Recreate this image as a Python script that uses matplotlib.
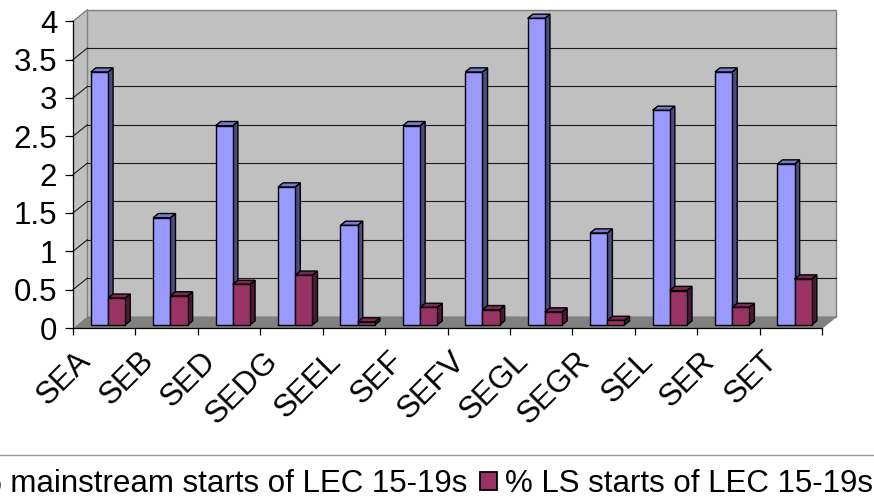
import matplotlib
matplotlib.use("Agg")
import matplotlib.pyplot as plt
from matplotlib.patches import Polygon, Patch
from matplotlib.transforms import offset_copy

# Data
categories = ["SEA", "SEB", "SED", "SEDG", "SEEL", "SEF", "SEFV", "SEGL",
              "SEGR", "SEL", "SER", "SET"]
mainstream = [3.3, 1.4, 2.6, 1.8, 1.3, 2.6, 3.3, 4.0, 1.2, 2.8, 3.3, 2.1]
ls_starts = [0.35, 0.38, 0.53, 0.65, 0.04, 0.23, 0.2, 0.17, 0.06, 0.45, 0.23, 0.6]
series_labels = ["% mainstream starts of LEC 15-19s", "% LS starts of LEC 15-19s"]
y_ticks = [0, 0.5, 1, 1.5, 2, 2.5, 3, 3.5, 4]

plt.rcParams["font.family"] = ["Liberation Sans", "DejaVu Sans"]
FS = 22.5

W, H = 874, 501
fig = plt.figure(figsize=(W / 100, H / 100), dpi=100)
fig.patch.set_facecolor("white")

# front plane of the 3-D box (pixels)
x0_px, x1_px = 73, 822
y0_px, y1_px = 328, 21.3
ax = fig.add_axes([x0_px / W, 1 - y0_px / H, (x1_px - x0_px) / W, (y0_px - y1_px) / H])
n = len(categories)
ax.set_xlim(0, n)
ax.set_ylim(0, 4)
ax.set_facecolor("none")

# depth of the box expressed in data units
px_x = (x1_px - x0_px) / n
px_y = (y0_px - y1_px) / 4
DX = 14.3 / px_x
DY = 11.5 / px_y

wall_c = "#c0c0c0"
floor_c = "#808080"
edge_g = "#808080"

def poly(pts, fc, ec="none", lw=0.0, z=1):
    p = Polygon(pts, closed=True, facecolor=fc, edgecolor=ec, linewidth=lw,
                clip_on=False, zorder=z, joinstyle="miter")
    ax.add_patch(p)

# walls and floor
poly([(0, 0), (0, 4), (DX, 4 + DY), (DX, DY)], wall_c, z=0.5)
poly([(DX, DY), (DX, 4 + DY), (n + DX, 4 + DY), (n + DX, DY)], wall_c, edge_g, 1.0, z=0.6)
poly([(0, 0), (n, 0), (n + DX, DY), (DX, DY)], floor_c, z=0.7)
ax.plot([n, n + DX], [0, DY], color=edge_g, lw=1.0, clip_on=False, zorder=0.8)
ax.plot([0, DX], [4, 4 + DY], color=edge_g, lw=1.0, clip_on=False, zorder=0.8)

# gridlines on back and side walls
for y in y_ticks[1:-1]:
    ax.plot([DX, n + DX], [y + DY, y + DY], color="#1a1a1a", lw=0.8,
            clip_on=False, zorder=0.9)
    ax.plot([0, DX], [y, y + DY], color="#1a1a1a", lw=0.8,
            clip_on=False, zorder=0.9)

# 3-D bars
f0, f1 = 0.26, 0.62
bw = 0.275
colors = [("#9999ff", "#4c4c80", "#7a7acc"), ("#993366", "#4d1a33", "#7a2952")]

def bar3d(xl, v, cols, z):
    front, side, top = cols
    ox0, oy0 = f0 * DX, f0 * DY
    ox1, oy1 = f1 * DX, f1 * DY
    xr = xl + bw
    kw = dict(ec="black", lw=1.0, z=z)
    poly([(xr + ox0, oy0), (xr + ox0, v + oy0), (xr + ox1, v + oy1), (xr + ox1, oy1)], side, **kw)
    poly([(xl + ox0, v + oy0), (xr + ox0, v + oy0), (xr + ox1, v + oy1), (xl + ox1, v + oy1)], top, **kw)
    poly([(xl + ox0, oy0), (xr + ox0, oy0), (xr + ox0, v + oy0), (xl + ox0, v + oy0)], front, **kw)

for i in range(n):
    left = i + 0.5 - bw
    bar3d(left, mainstream[i], colors[0], 2 + i * 0.01)
    bar3d(left + bw, ls_starts[i], colors[1], 2.005 + i * 0.01)

# axes
for s in ("top", "right"):
    ax.spines[s].set_visible(False)
for s in ("left", "bottom"):
    ax.spines[s].set_color("black")
    ax.spines[s].set_linewidth(0.9)
    ax.spines[s].set_zorder(5)

ax.set_yticks(y_ticks)
ax.set_yticklabels([f"{t:g}" for t in y_ticks])
ax.tick_params(axis="y", direction="out", length=5.8, width=0.9, pad=5.5,
               labelsize=FS, colors="black")
ax.set_xticks(range(n + 1))
ax.set_xticklabels([])
ax.tick_params(axis="x", direction="out", length=5.0, width=0.9, colors="black")

lab_tr = offset_copy(ax.transData, fig=fig, x=-7, y=-18, units="dots")
for i, name in enumerate(categories):
    ax.text(i + 0.5, 0, name, transform=lab_tr, rotation=45, ha="right",
            va="top", fontsize=FS, clip_on=False)

# legend
handles = [Patch(facecolor=colors[0][0], edgecolor="black", linewidth=1.3),
           Patch(facecolor=colors[1][0], edgecolor="black", linewidth=1.3)]
leg = fig.legend(handles, series_labels, ncol=2, loc="upper center",
                 bbox_to_anchor=(0.470, 1 - 455 / H), frameon=True,
                 fancybox=False, edgecolor=edge_g, fontsize=FS,
                 handlelength=0.55, handleheight=0.55, handletextpad=0.26,
                 columnspacing=0.42, borderpad=0.45, borderaxespad=0)
leg.get_frame().set_linewidth(1.0)

fig.savefig("out.png", dpi=100, facecolor="white")
